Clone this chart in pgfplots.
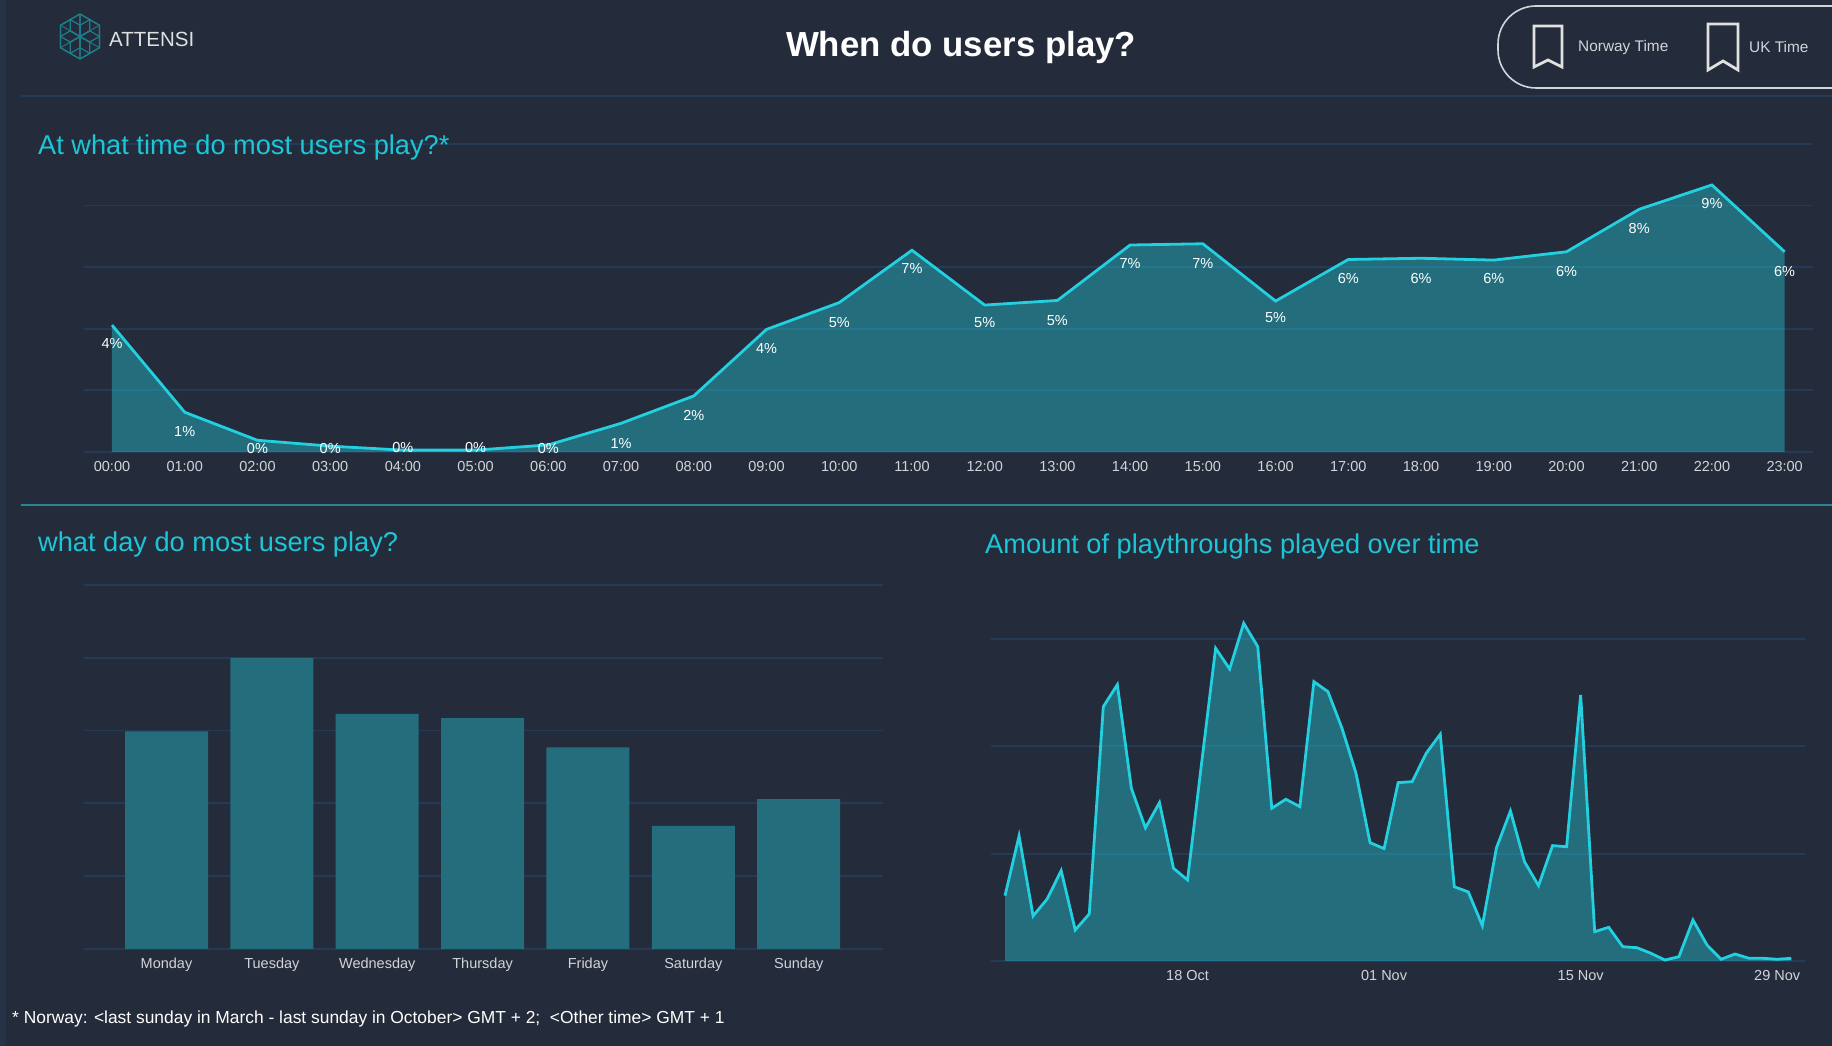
\documentclass[border=0pt]{standalone}
\usepackage{pgfplots}
\usepackage{pgfplotstable}
\usepackage{fontspec}
\setmainfont{Liberation Sans}
\pgfplotsset{compat=1.18}
\definecolor{bgc}{HTML}{242B3B}
\definecolor{stripc}{HTML}{253349}
\definecolor{linec}{HTML}{22D0E0}
\definecolor{barc}{HTML}{236D7D}
\definecolor{titlec}{HTML}{1CC6D6}
\definecolor{gridc}{HTML}{253A56}
\definecolor{sepc}{HTML}{2A8593}
\definecolor{tickc}{HTML}{D2D4D8}
\definecolor{logoc}{HTML}{1E7F8C}
\newcommand{\fs}[1]{\fontsize{#1}{#1}\selectfont}

\pgfplotstableread{
x y ly l
0 4.12 3.52 4
1 1.29 0.68 1
2 0.38 0.11 0
3 0.19 0.11 0
4 0.06 0.13 0
5 0.06 0.13 0
6 0.23 0.11 0
7 0.93 0.27 1
8 1.82 1.17 2
9 3.98 3.37 4
10 4.85 4.20 5
11 6.55 5.95 7
12 4.77 4.20 5
13 4.92 4.28 5
14 6.72 6.12 7
15 6.76 6.12 7
16 4.90 4.35 5
17 6.25 5.64 6
18 6.29 5.64 6
19 6.23 5.62 6
20 6.50 5.87 6
21 7.88 7.27 8
22 8.67 8.06 9
23 6.50 5.87 6
}\hourtable

\pgfplotstableread{
x y
0 299
1 400
2 323
3 317
4 277
5 169
6 206
}\daytable

\pgfplotstableread{
x y
0 60.9
1 116.5
2 41.9
3 57.8
4 84.2
5 28.9
6 43.8
7 237.0
8 257.5
9 160.9
10 124.0
11 147.6
12 86.4
13 75.5
14 184.2
15 291.4
16 272.1
17 314.7
18 293.0
19 142.3
20 150.7
21 143.8
22 260.3
23 251.0
24 216.9
25 174.9
26 110.3
27 104.7
28 166.2
29 167.1
30 193.6
31 211.3
32 69.2
33 64.3
34 32.9
35 105.3
36 139.8
37 92.5
38 70.2
39 107.5
40 106.5
41 247.9
42 27.3
43 31.4
44 13.3
45 12.4
46 7.2
47 0.9
48 4.0
49 38.2
50 14.9
51 1.6
52 6.5
53 2.5
54 2.5
55 1.6
56 2.5
}\playtable

\pgfplotsset{panel/.style={
  scale only axis, anchor=south west, clip=false,
  axis line style={draw=none},
  tick style={draw=none},
  ymajorgrids, major grid style={draw=gridc, line width=1.8pt},
  yticklabels={},
  ticklabel style={text=tickc},
  xticklabel style={font=\fs{14.5}},
}}

\begin{document}
\begin{tikzpicture}[x=1pt,y=1pt]
\clip (0,0) rectangle (1832,1046);
\fill[bgc] (0,0) rectangle (1832,1046);
\fill[stripc] (0,0) rectangle (6,1046);
\draw[gridc, line width=1.8pt] (21,{1046-96}) -- (1832,{1046-96});
\draw[sepc, line width=1.5pt] (21,{1046-505}) -- (1832,{1046-505});

% logo
\begin{scope}[shift={(80,{1046-36.5})}, logoc, line width=1.2pt]
  \draw (90:22.5) -- (150:22.5) -- (210:22.5) -- (270:22.5) -- (330:22.5) -- (30:22.5) -- cycle;
  \foreach \a in {30,90,150,210,270,330}{
    \begin{scope}[shift={(\a:11.25)}]
      \draw (90:11.25) -- (150:11.25) -- (210:11.25) -- (270:11.25) -- (330:11.25) -- (30:11.25) -- cycle;
    \end{scope}
    \draw[opacity=.8] (0,0) -- (\a:22.5);}
\end{scope}
\node[anchor=west, inner sep=0pt, text=white!88!black] at (109,{1046-39.5}) {\fs{20.5}ATTENSI};

% heading
\node[inner sep=0pt, text=white] at (961,{1046-48}) {\fs{34.8}\bfseries When do users play?};

% bookmarks box
\draw[tickc, line width=1.6pt, rounded corners=38pt] (1498,{1046-6}) rectangle (1900,{1046-88});
\draw[white!88!black, line width=2.8pt] (1534,{1046-26}) -- (1562,{1046-26}) -- (1562,{1046-67}) -- (1548,{1046-60}) -- (1534,{1046-67}) -- cycle;
\draw[white!88!black, line width=2.8pt] (1708,{1046-24}) -- (1738,{1046-24}) -- (1738,{1046-70}) -- (1723,{1046-61}) -- (1708,{1046-70}) -- cycle;
\node[anchor=west, inner sep=0pt, text=tickc] at (1578,{1046-47.5}) {\fs{15.4}Norway Time};
\node[anchor=west, inner sep=0pt, text=tickc] at (1749,{1046-47.5}) {\fs{15.4}UK Time};

% hour chart
\begin{axis}[panel, at={(84pt,594pt)}, width=1729pt, height=308pt,
  xmin=-0.385, xmax=23.39, ymin=0, ymax=10, ytick={0,2,4,6,8,10},
  xtick={0,...,23},
  xticklabels={00:00,01:00,02:00,03:00,04:00,05:00,06:00,07:00,08:00,09:00,10:00,11:00,12:00,13:00,14:00,15:00,16:00,17:00,18:00,19:00,20:00,21:00,22:00,23:00},
  xticklabel style={yshift=-5.5pt},
  xtick pos=bottom]
  \addplot[draw=none, fill=linec, fill opacity=0.4] table[x=x,y=y] {\hourtable} \closedcycle;
  \addplot[linec, line width=2.8pt, line join=miter] table[x=x,y=y] {\hourtable};
  \addplot[draw=none, no marks, point meta=explicit symbolic,
    nodes near coords={\pgfplotspointmeta\%},
    every node near coord/.style={anchor=center, font=\fs{14.5}, text=white, inner sep=0pt}]
    table[x=x,y=ly,meta=l] {\hourtable};
\end{axis}

% day chart
\begin{axis}[panel, at={(84pt,97pt)}, width=799pt, height=364pt,
  xmin=-0.783, xmax=6.80, ymin=0, ymax=500, ytick={0,100,200,300,400,500},
  xtick={0,...,6},
  xticklabels={Monday,Tuesday,Wednesday,Thursday,Friday,Saturday,Sunday},
  xticklabel style={yshift=-5.5pt}]
  \addplot[ybar, bar width=83pt, bar shift=0pt, draw=none, fill=barc] table[x=x,y=y] {\daytable};
\end{axis}

% playthrough chart
\begin{axis}[panel, at={(990.7pt,85pt)}, width=814.3pt, height=343.4pt,
  xmin=-1.02, xmax=56.98, ymin=0, ymax=320, ytick={0,100,200,300},
  xtick={13,27,41,55},
  xticklabels={18 Oct,01 Nov,15 Nov,29 Nov},
  xticklabel style={yshift=-5.5pt}]
  \addplot[draw=none, fill=linec, fill opacity=0.4] table[x=x,y=y] {\playtable} \closedcycle;
  \addplot[linec, line width=2.8pt, line join=miter] table[x=x,y=y] {\playtable};
\end{axis}

% chart titles
\node[anchor=west, inner sep=0pt, text=titlec] at (38,{1046-147.5}) {\fs{27.2}At what time do most users play?*};
\node[anchor=west, inner sep=0pt, text=titlec] at (38,{1046-544.5}) {\fs{27.2}what day do most users play?};
\node[anchor=west, inner sep=0pt, text=titlec] at (985,{1046-546.5}) {\fs{27.2}Amount of playthroughs played over time};
\node[anchor=west, inner sep=0pt, text=white] at (12,{1046-1019.5}) {\fs{17.4}* Norway: <last sunday in March - last sunday in October> GMT + 2;\ \ <Other time> GMT + 1};
\end{tikzpicture}
\end{document}
